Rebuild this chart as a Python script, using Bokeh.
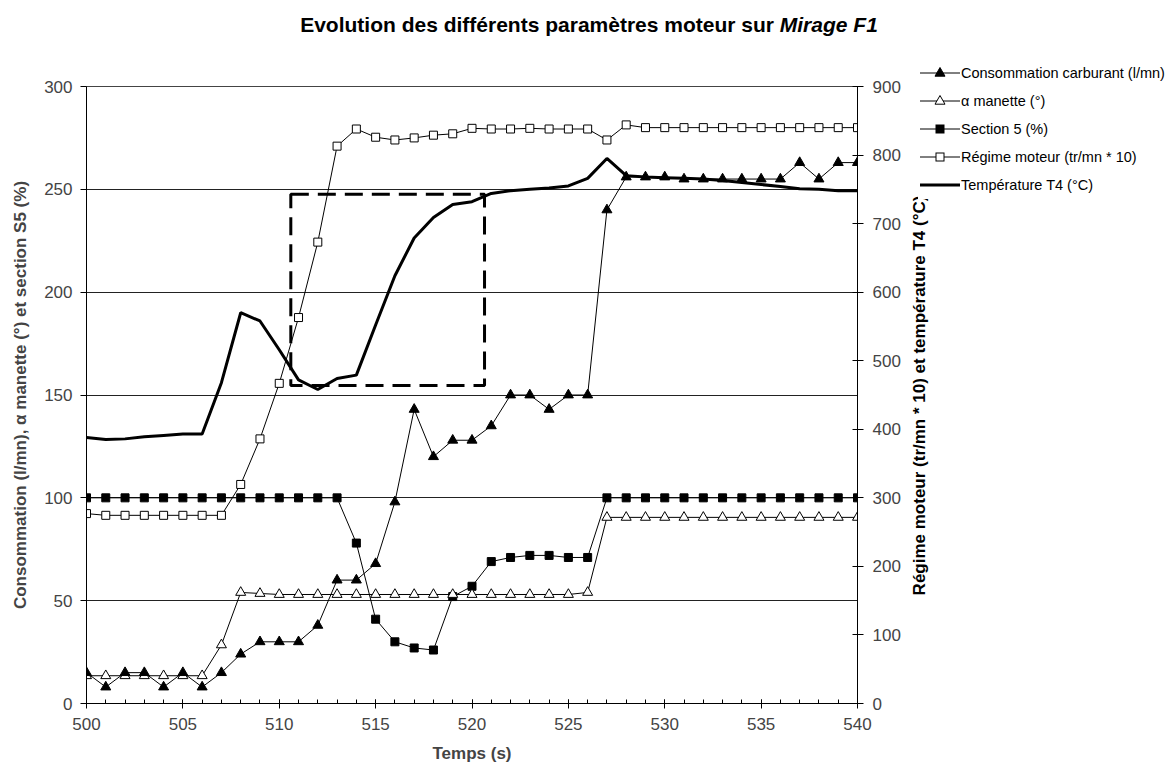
import math
from bokeh.plotting import figure
from bokeh.layouts import column, row
from bokeh.models import (Range1d, LinearAxis, SingleIntervalTicker, Label, BoxAnnotation, Div)
from bokeh.embed import file_html
from bokeh.resources import INLINE

# ---------------- data ----------------
temps = list(range(500, 541))

# left axis (l/mn, degrees, %)
consommation = [15, 8, 15, 15, 8, 15, 8, 15, 24, 30, 30, 30, 38, 60, 60, 68, 98, 143, 120, 128,
                128, 135, 150, 150, 143, 150, 150, 240, 256, 256, 256, 255, 255, 255, 255, 255,
                255, 263, 255, 263, 263]
alpha_manette = [13.5, 13.5, 13.5, 13.5, 13.5, 13.5, 13.5, 28.5, 54, 53.5, 53, 53, 53, 53, 53, 53,
                 53, 53, 53, 53, 53, 53, 53, 53, 53, 53, 54, 90.5, 90.5, 90.5, 90.5, 90.5, 90.5,
                 90.5, 90.5, 90.5, 90.5, 90.5, 90.5, 90.5, 90.5]
section5 = [100, 100, 100, 100, 100, 100, 100, 100, 100, 100, 100, 100, 100, 100, 78, 41, 30, 27,
            26, 52, 57, 69, 71, 72, 72, 71, 71, 100, 100, 100, 100, 100, 100, 100, 100, 100, 100,
            100, 100, 100, 100]

# right axis (tr/mn * 10, degC)
regime = [277, 274.5, 274.5, 274.5, 274.5, 274.5, 274.5, 274.5, 319.5, 386, 467, 563, 673, 813,
          838, 826, 822, 825, 829, 831, 839, 838, 838, 839, 838, 838, 838, 822, 844, 840, 840,
          840, 840, 840, 840, 840, 840, 840, 840, 840, 840]
temperature_t4 = [388, 385, 386, 389, 391, 393, 393, 468, 570, 558, 516, 472, 458, 474, 479, 552,
                  624, 679, 709, 728, 732, 744, 748, 750, 752, 755, 766, 795, 770, 768, 767, 766,
                  765, 763, 760, 757, 754, 751, 750, 748, 748]

# dashed highlight box (data units, left axis)
box_left, box_right, box_bottom, box_top = 510.6, 520.65, 154.6, 247.6

title_main = "Evolution des différents paramètres moteur sur"
title_italic = "Mirage F1"
x_title = "Temps (s)"
left_title = "Consommation (l/mn), α manette (°) et section S5 (%)"
right_title = "Régime moteur (tr/mn * 10) et température T4 (°C)"
legend_labels = ["Consommation carburant (l/mn)", "α manette (°)", "Section 5 (%)",
                 "Régime moteur (tr/mn * 10)", "Température T4 (°C)"]

FONT = "Liberation Sans"
W, H, TITLE_H = 1173, 767, 50
PLOT_W = 933
LEG_OVERLAP = 15

# ---------------- title ----------------
title_div = Div(
    text="<b>%s <i>%s</i></b>" % (title_main, title_italic),
    width=W - 5, height=TITLE_H, margin=(0, 0, 0, 5),
    styles={"font-family": FONT, "font-size": "21px", "color": "black",
            "text-align": "center", "line-height": "50px", "overflow": "hidden"},
)

# ---------------- main figure ----------------
p = figure(width=PLOT_W, height=H - TITLE_H, x_range=Range1d(500, 540), y_range=Range1d(0, 300),
           output_backend="svg", toolbar_location=None,
           min_border_left=86, min_border_right=PLOT_W - 857, min_border_top=86 - TITLE_H,
           min_border_bottom=64)
p.outline_line_color = "#444444"
p.background_fill_color = "white"
p.border_fill_color = "white"
p.extra_y_ranges = {"right": Range1d(0, 900)}

# x axis
xa = p.xaxis[0]
xa.ticker = SingleIntervalTicker(interval=5, num_minor_ticks=5)
xa.major_tick_in = 4
xa.major_tick_out = 5
xa.minor_tick_in = 4
xa.minor_tick_out = 0
xa.axis_label = x_title
xa.axis_label_text_font = FONT
xa.axis_label_text_font_style = "bold"
xa.axis_label_text_font_size = "17px"
xa.axis_label_standoff = 11
xa.major_label_text_font = FONT
xa.major_label_text_font_size = "17px"
xa.major_label_standoff = 9
xa.axis_line_color = "black"
xa.major_tick_line_color = "black"
xa.minor_tick_line_color = "black"

# left axis
ya = p.yaxis[0]
ya.ticker = SingleIntervalTicker(interval=50, num_minor_ticks=0)
ya.major_tick_in = 0
ya.major_tick_out = 6
ya.minor_tick_line_color = None
ya.axis_label = left_title
ya.axis_label_text_font = FONT
ya.axis_label_text_font_style = "bold"
ya.axis_label_text_font_size = "17px"
ya.axis_label_standoff = 11
ya.major_label_text_font = FONT
ya.major_label_text_font_size = "17px"
ya.major_label_standoff = 8
ya.axis_line_color = "black"
ya.major_tick_line_color = "black"

# right axis
ra = LinearAxis(y_range_name="right", ticker=SingleIntervalTicker(interval=100, num_minor_ticks=0))
ra.major_tick_in = 5
ra.major_tick_out = 6
ra.minor_tick_line_color = None
ra.major_label_text_font = FONT
ra.major_label_text_font_size = "17px"
ra.major_label_standoff = 9
ra.axis_line_color = "black"
ra.major_tick_line_color = "black"
p.add_layout(ra, "right")

# right axis title, reading bottom-to-top, in its own side panel
p.add_layout(Label(x=16, y=308, x_units="screen", y_units="screen", text=right_title,
                   angle=90, angle_units="deg", text_align="center", text_baseline="middle",
                   text_font=FONT, text_font_style="bold", text_font_size="17px",
                   text_color="black"), "right")

p.xgrid.visible = False
p.ygrid.grid_line_color = "#222222"
p.ygrid.grid_line_width = 1

# ---------------- series ----------------
r_t4 = p.line(temps, temperature_t4, y_range_name="right", line_color="black", line_width=3)

l_reg = p.line(temps, regime, y_range_name="right", line_color="black", line_width=1)
s_reg = p.scatter(temps, regime, y_range_name="right", marker="square", size=8,
                  fill_color="white", line_color="black", line_width=1)

l_s5 = p.line(temps, section5, line_color="black", line_width=1)
s_s5 = p.scatter(temps, section5, marker="square", size=8, fill_color="black", line_color="black")

l_al = p.line(temps, alpha_manette, line_color="black", line_width=1)
s_al = p.scatter(temps, alpha_manette, marker="triangle", size=10, fill_color="white",
                 line_color="black", line_width=1)

l_co = p.line(temps, consommation, line_color="black", line_width=1)
s_co = p.scatter(temps, consommation, marker="triangle", size=10, fill_color="black",
                 line_color="black")

box = BoxAnnotation(left=box_left, right=box_right, bottom=box_bottom, top=box_top,
                    fill_alpha=0, line_color="black", line_alpha=1, line_width=3,
                    line_dash="18 9")
p.add_layout(box)

# ---------------- legend (beside the plot, overlapping the right axis title) ----------------
def _sample(marker, fill, width):
    line = '<line x1="0" y1="10" x2="40" y2="10" stroke="black" stroke-width="%d"/>' % width
    if marker == "triangle":
        mk = '<polygon points="20,4.5 25,13.2 15,13.2" fill="%s" stroke="black" stroke-width="1"/>' % fill
    elif marker == "square":
        mk = '<rect x="16" y="6" width="8" height="8" fill="%s" stroke="black" stroke-width="1"/>' % fill
    else:
        mk = ""
    return ('<svg width="40" height="20" viewBox="0 0 40 20" style="flex:none;display:block">'
            + line + mk + '</svg>')

legend_samples = [("triangle", "black", 1), ("triangle", "white", 1), ("square", "black", 1),
                  ("square", "white", 1), (None, "none", 3)]
rows_html = "".join(
    '<div style="height:28px;display:flex;align-items:center;white-space:nowrap">'
    + _sample(*legend_samples[i])
    + '<span style="margin-left:1px">%s</span></div>' % legend_labels[i]
    for i in range(len(legend_labels))
)
legend_div = Div(
    text='<div style="margin-top:9px;padding:0 2px 0 2px;background:white;display:inline-block">'
         + rows_html + '</div>',
    width=W - PLOT_W + LEG_OVERLAP, height=H - TITLE_H, margin=0,
    styles={"font-family": FONT, "font-size": "14.5px", "color": "black",
            "margin-left": "-%dpx" % LEG_OVERLAP, "line-height": "normal"},
)

layout = column(title_div, row(p, legend_div, spacing=0), spacing=0)
open("out.html", "w").write(file_html(layout, INLINE))
